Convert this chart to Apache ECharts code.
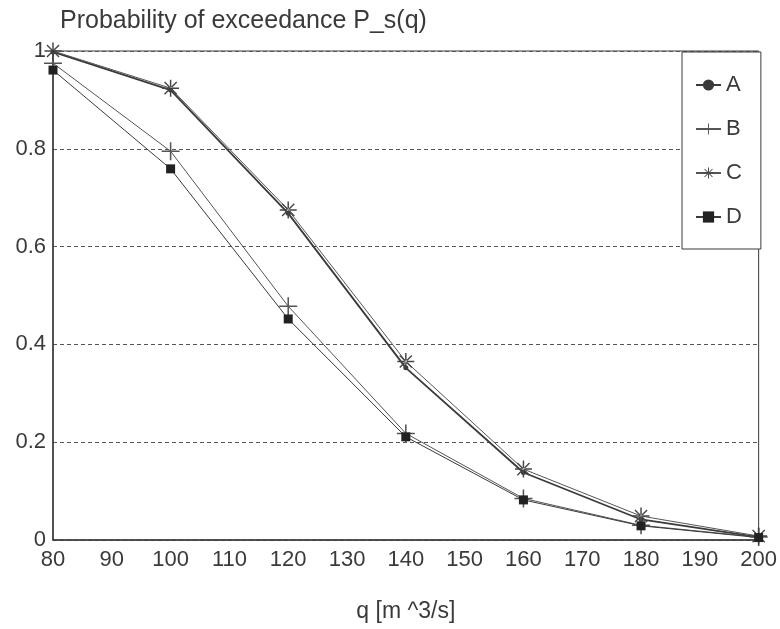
<!DOCTYPE html>
<html>
<head>
<meta charset="utf-8">
<script src="https://cdn.jsdelivr.net/npm/echarts@6/dist/echarts.min.js"></script>
<style>
  html, body { margin: 0; padding: 0; background: #fff; }
  #chart { width: 780px; height: 629px; }
</style>
</head>
<body>
<div id="chart"></div>
<script>
// data
var qValues = [80, 100, 120, 140, 160, 180, 200];
var seriesA = [0.998, 0.92, 0.668, 0.352, 0.138, 0.042, 0.006];
var seriesB = [0.975, 0.795, 0.478, 0.218, 0.085, 0.03, 0.006];
var seriesC = [1.0, 0.924, 0.675, 0.365, 0.145, 0.049, 0.008];
var seriesD = [0.961, 0.759, 0.452, 0.211, 0.082, 0.029, 0.005];
var yTicks = ['0', '0.2', '0.4', '0.6', '0.8', '1'];

var ink = '#3a3a3a';
var font = 'Liberation Sans, Arial, sans-serif';

// symbols
var plusPath = 'path://M-0.6,-7 L0.6,-7 L0.6,7 L-0.6,7 Z M-7,-0.6 L7,-0.6 L7,0.6 L-7,0.6 Z';
var starPath = 'path://M-0.6,-7 L0.6,-7 L0.6,7 L-0.6,7 Z M-7,-0.6 L7,-0.6 L7,0.6 L-7,0.6 Z ' +
  'M-5.4,-4.6 L4.6,5.4 L5.4,4.6 L-4.6,-5.4 Z M4.6,-5.4 L-5.4,4.6 L-4.6,5.4 L5.4,-4.6 Z';

function pairs(ys) {
  return qValues.map(function (q, i) { return [q, ys[i]]; });
}

var chart = echarts.init(document.getElementById('chart'));

var option = {
  backgroundColor: '#fff',
  animation: false,
  title: {
    text: 'Probability of exceedance P_s(q)',
    left: 55,
    top: 4,
    textStyle: { fontFamily: font, fontSize: 25, fontWeight: 'normal', color: ink }
  },
  grid: {
    left: 53, right: 20, top: 51, bottom: 89,
    show: true, borderColor: ink, borderWidth: 1, backgroundColor: 'transparent'
  },
  legend: {
    orient: 'vertical',
    left: 682, top: 52,
    padding: [22, 19, 21, 13],
    itemWidth: 25, itemHeight: 14, itemGap: 22,
    backgroundColor: '#fff',
    borderColor: ink, borderWidth: 1,
    textStyle: { fontFamily: font, fontSize: 22, color: ink },
    data: ['A', 'B', 'C', 'D']
  },
  xAxis: {
    type: 'value',
    min: 80, max: 200, interval: 10,
    name: 'q [m ^3/s]',
    nameLocation: 'middle',
    nameGap: 60,
    nameTextStyle: { fontFamily: font, fontSize: 23, color: ink },
    axisLine: { lineStyle: { color: ink, width: 1.5 } },
    axisTick: { show: false },
    splitLine: { show: false },
    axisLabel: { margin: 9, fontFamily: font, fontSize: 22, color: ink }
  },
  yAxis: {
    type: 'value',
    min: 0, max: 1, interval: 0.2,
    axisLine: { show: true, lineStyle: { color: ink, width: 1.5 } },
    axisTick: { show: false },
    splitLine: { lineStyle: { color: '#555', type: [4, 3], width: 1 } },
    axisLabel: {
      margin: 7, fontFamily: font, fontSize: 22, color: ink,
      formatter: function (v) { return yTicks[Math.round(v / 0.2)]; }
    }
  },
  series: [
    {
      name: 'A', type: 'line', data: pairs(seriesA),
      symbol: 'circle', symbolSize: 5,
      lineStyle: { color: ink, width: 1.8 }, itemStyle: { color: ink }
    },
    {
      name: 'B', type: 'line', data: pairs(seriesB),
      symbol: plusPath, symbolSize: 18,
      lineStyle: { color: '#555', width: 1 }, itemStyle: { color: '#555' }
    },
    {
      name: 'C', type: 'line', data: pairs(seriesC),
      symbol: starPath, symbolSize: 17,
      lineStyle: { color: '#555', width: 1 }, itemStyle: { color: '#444' }
    },
    {
      name: 'D', type: 'line', data: pairs(seriesD),
      symbol: 'rect', symbolSize: 9,
      lineStyle: { color: ink, width: 1 }, itemStyle: { color: '#222' }
    }
  ]
};

chart.setOption(option);
</script>
</body>
</html>
